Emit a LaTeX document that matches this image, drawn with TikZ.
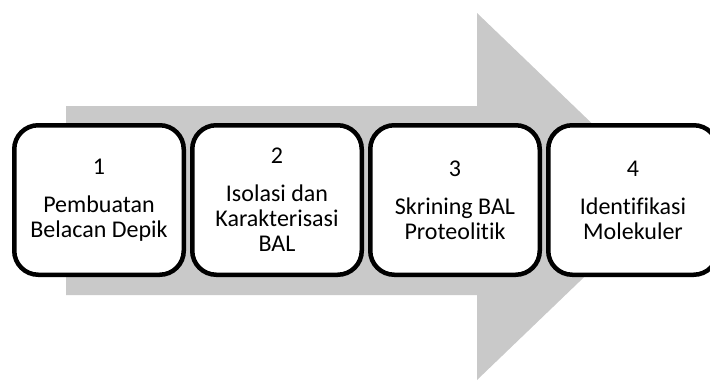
\documentclass[tikz,border=0pt]{standalone}
\usepackage{fontspec}
\setmainfont{Carlito}[Ligatures=NoCommon]
\usepackage{tikz}
\usetikzlibrary{
positioning
}

\begin{document}
\begin{tikzpicture}[
x=1pt,y=-1pt,
node distance=4pt,
stage/.style={
draw=black,
line width=4.5pt,
rounded corners=24pt,
fill=white,
minimum width=169.5pt,
minimum height=149.5pt,
align=center,
font=\fontsize{24}{25}\selectfont
},
bigarrow/.style={fill=black!21}
]
\useasboundingbox (0,0) rectangle (710,383);

% background arrow
\fill[bigarrow] (66,106) -- (477,106) -- (477,13) -- (668,196.5)
  -- (477,380) -- (477,295) -- (66,295) -- cycle;

\node[stage] (pembuatan) at (99,200) {1\\[13pt]Pembuatan\\Belacan Depik};
\node[stage,right=of pembuatan] (isolasi) {2\\[13pt]Isolasi dan\\Karakterisasi\\BAL};
\node[stage,right=of isolasi] (skrining) {3\\[13pt]Skrining BAL\\Proteolitik};
\node[stage,right=of skrining] (identifikasi) {4\\[13pt]Identifikasi\\Molekuler};

\end{tikzpicture}
\end{document}
